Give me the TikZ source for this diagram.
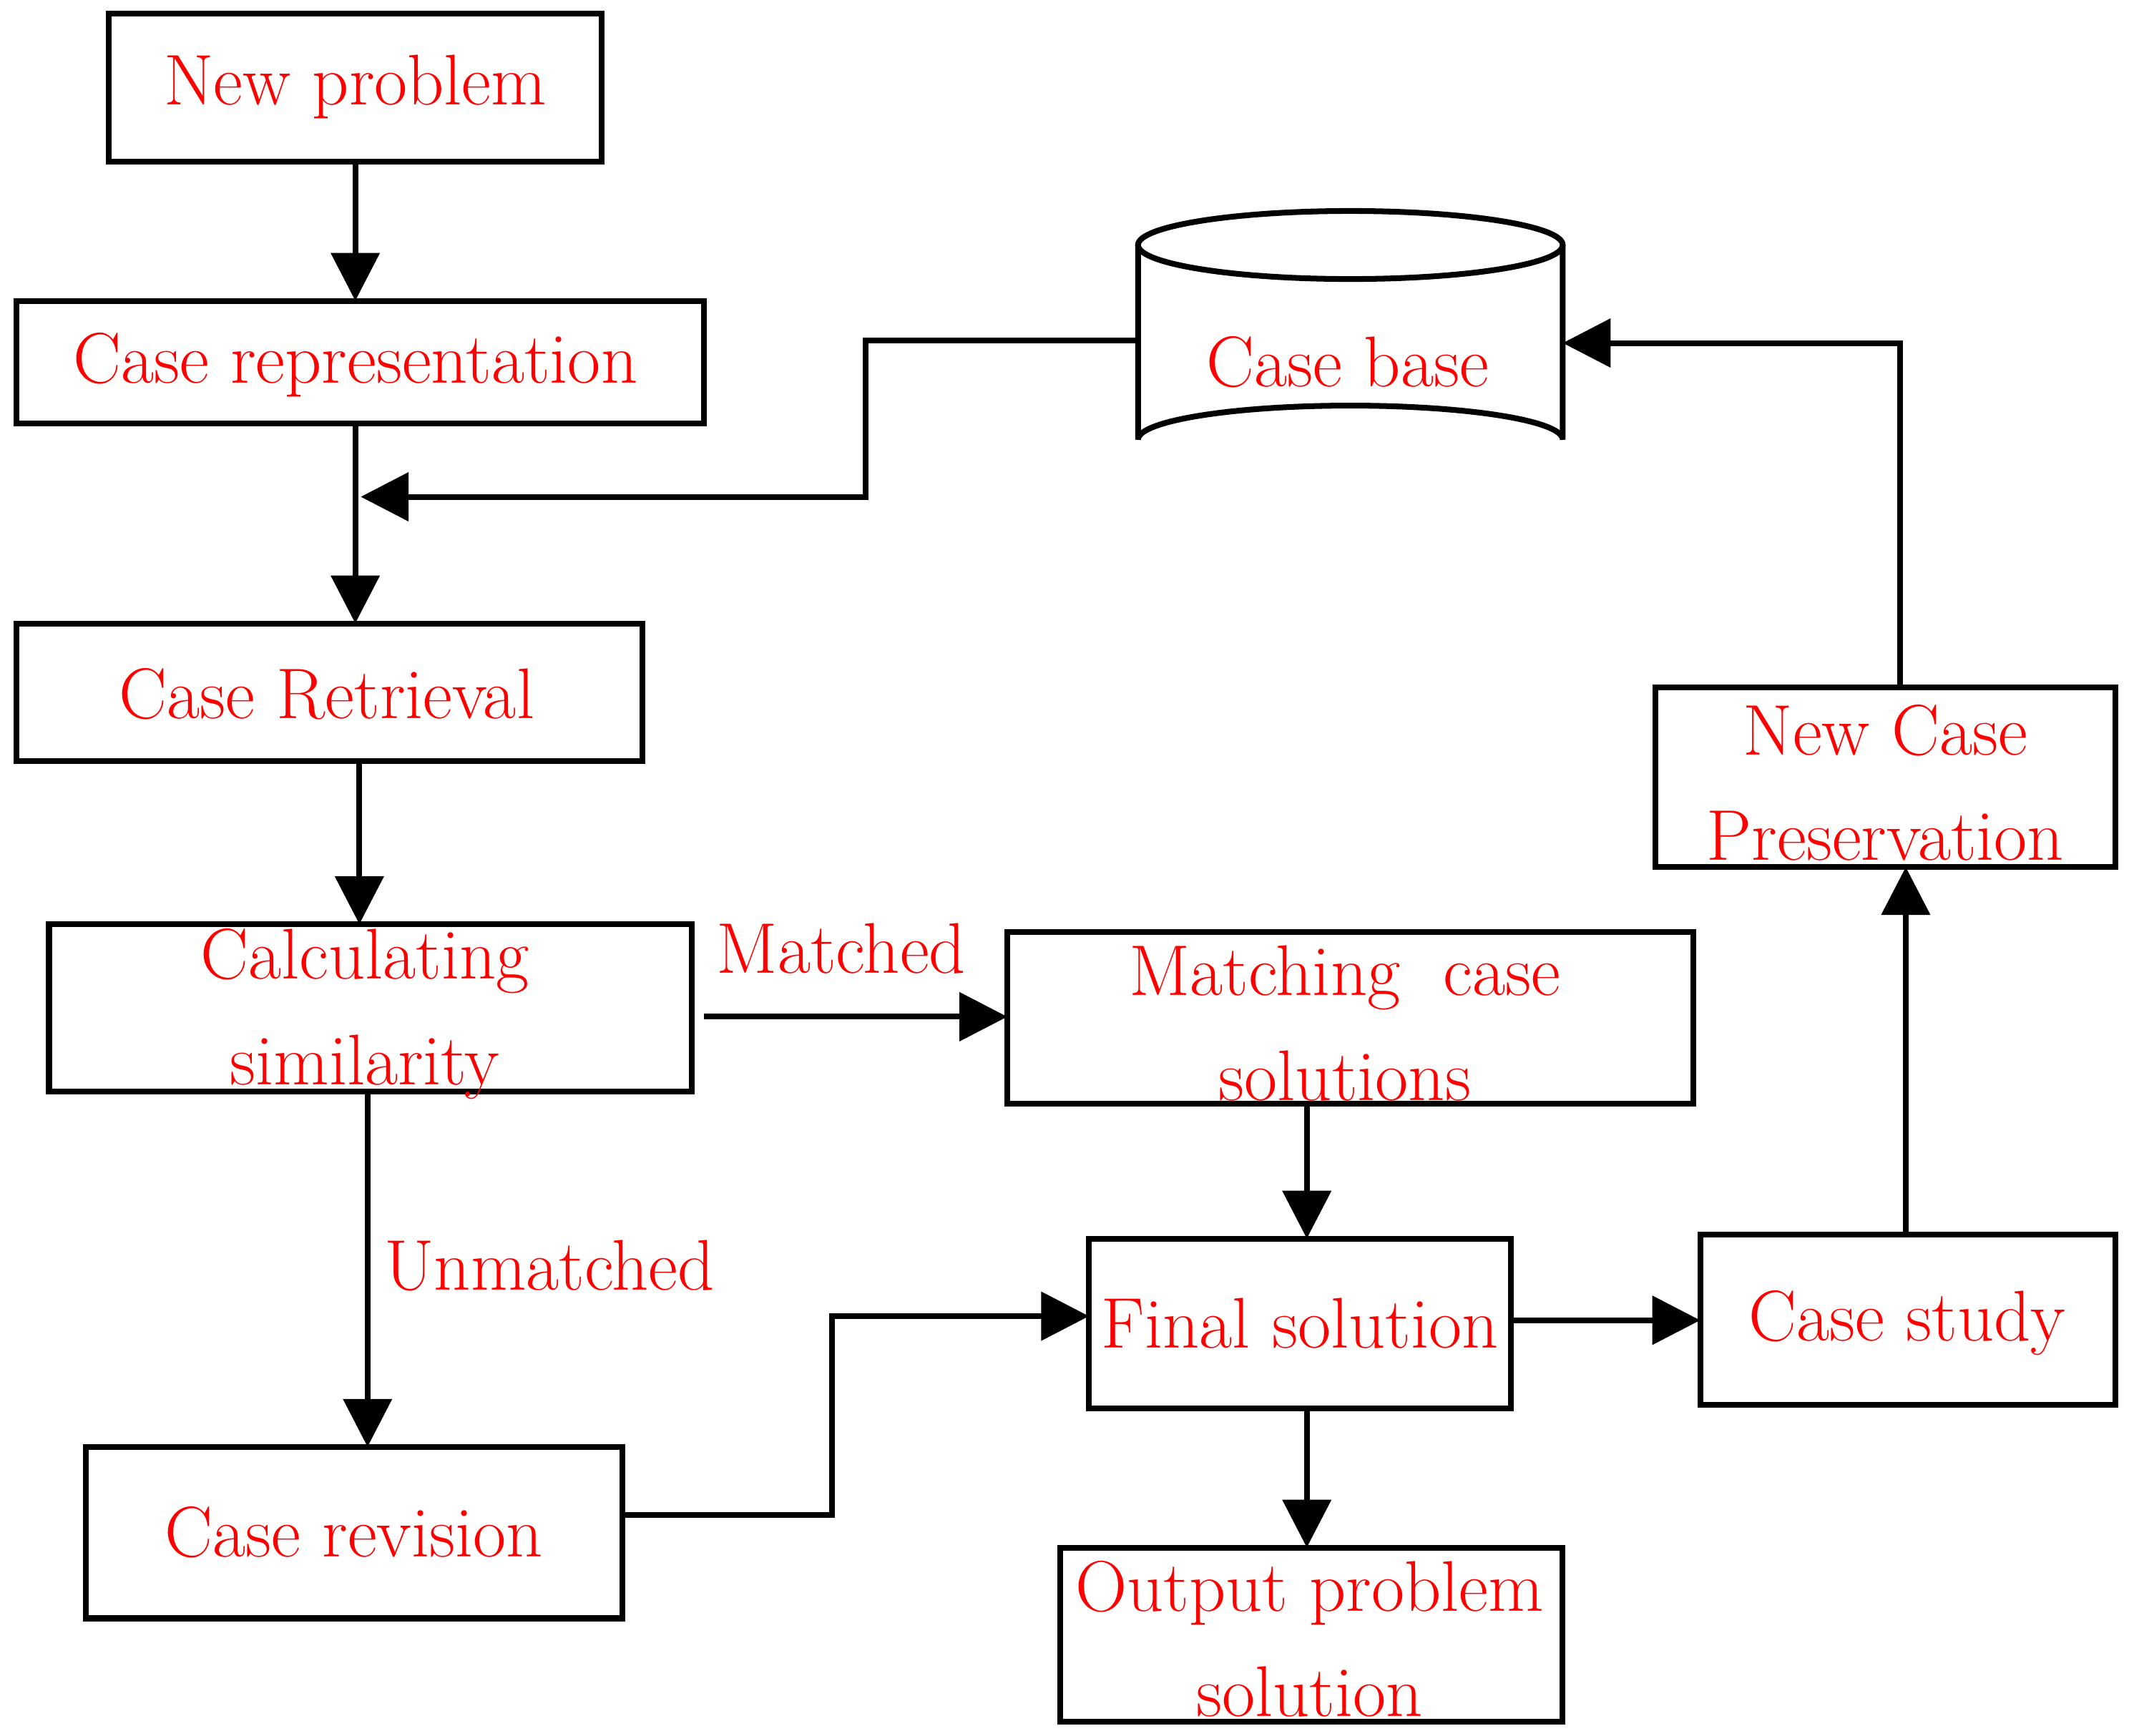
\documentclass[tikz,border=0pt]{standalone}
\usetikzlibrary{arrows.meta}
\begin{document}
\begin{tikzpicture}[x=0.01cm,y=-0.01cm,
 box/.style={draw,line width=1.2pt},
 t/.style={text=red,font=\fontsize{15}{22}\selectfont,align=center},
 ar/.style={line width=1.2pt,-{Triangle[length=10pt,width=10pt]}},
 ln/.style={line width=1.2pt}]
\useasboundingbox (0,0) rectangle (1564,1275);
\draw[box] (80,10) rectangle (442,119);
\node[t] (np) at (261,64) {New problem};
\coordinate (npb) at (261,119);
\draw[box] (12,221) rectangle (517,311);
\node[t] (cr) at (261,268) {Case representation};
\draw[box] (12,458) rectangle (472,559);
\node[t] (ret) at (240,510) {Case Retrieval};
\draw[box] (36,679) rectangle (508,802);
\node[t] (cs) at (268,745) {Calculating\\similarity};
\draw[box] (740,685) rectangle (1244,811);
\node[t] (mc) at (988,752) {Matching\ \ case\\solutions};
\draw[box] (1216,505) rectangle (1554,637);
\node[t] (ncp) at (1385,575) {New Case\\Preservation};
\draw[box] (800,910) rectangle (1110,1035);
\node[t] (fs) at (955,972) {Final solution};
\draw[box] (1249,907) rectangle (1554,1032);
\node[t] (cst) at (1401,972) {Case study};
\draw[box] (63,1063) rectangle (457,1189);
\node[t] (rev) at (260,1126) {Case revision};
\draw[box] (779,1137) rectangle (1148,1265);
\node[t] (out) at (962,1204) {Output problem\\solution};
% cylinder
\draw[box] (836,180) -- (836,323) arc[start angle=180,end angle=360,x radius=156,y radius=25] -- (1148,180);
\draw[box] (992,180) ellipse[x radius=156,y radius=25];
\node[t] (cb) at (990,266) {Case base};
% connectors
\draw[ar] (261,119) -- (261,221);
\draw[ar] (261,311) -- (261,458);
\draw[ar] (836,250) -- (636,250) -- (636,365) -- (265,365);
\draw[ar] (264,559) -- (264,679);
\draw[ar] (517,747) -- (740,747);
\node[t,anchor=west] (m) at (514,697) {Matched};
\draw[ar] (270,802) -- (270,1063);
\node[t,anchor=west] (u) at (270,930) {Unmatched};
\draw[ar] (457,1113) -- (611,1113) -- (611,967) -- (800,967);
\draw[ar] (960,811) -- (960,910);
\draw[ar] (1110,970) -- (1249,970);
\draw[ar] (960,1035) -- (960,1137);
\draw[ar] (1400,907) -- (1400,637);
\draw[ar] (1396,505) -- (1396,252) -- (1148,252);
\end{tikzpicture}
\end{document}
